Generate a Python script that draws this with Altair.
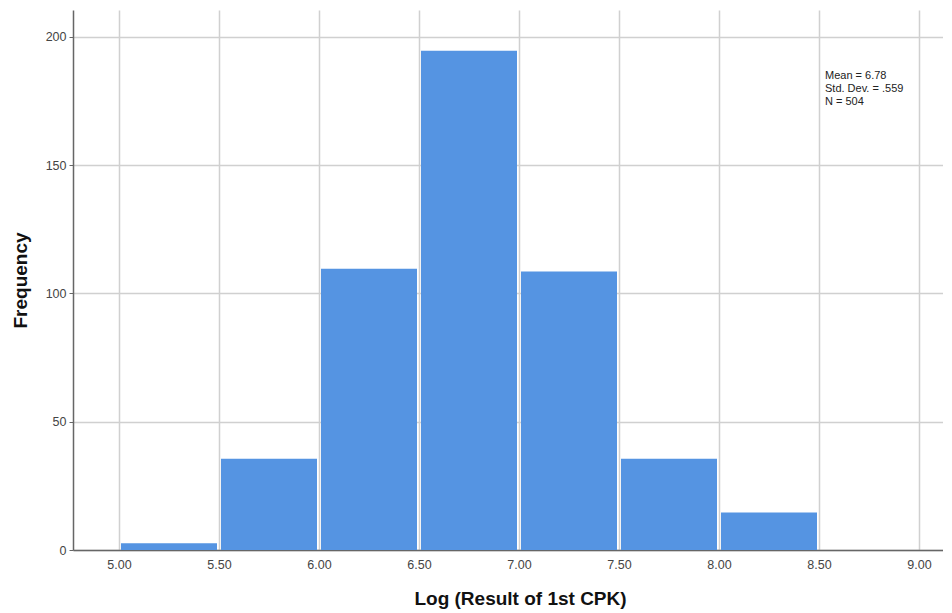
import altair as alt
import pandas as pd

bin_start = [5.0, 5.5, 6.0, 6.5, 7.0, 7.5, 8.0]
bin_end = [5.5, 6.0, 6.5, 7.0, 7.5, 8.0, 8.5]
freq = [3, 36, 110, 195, 109, 36, 15]
x_ticks = [5.0, 5.5, 6.0, 6.5, 7.0, 7.5, 8.0, 8.5, 9.0]
y_ticks = [0, 50, 100, 150, 200]
stats_text = "Mean = 6.78\nStd. Dev. = .559\nN = 504"

df = pd.DataFrame({"start": bin_start, "end": bin_end, "freq": freq})

xscale = alt.Scale(domain=[4.77, 9.12], nice=False, zero=False)
yscale = alt.Scale(domain=[0, 210.5], nice=False)

bars = alt.Chart(df).mark_rect(
    color="#5594E2", xOffset=2, x2Offset=-2, yOffset=1
).encode(
    x=alt.X("start:Q", scale=xscale,
            axis=alt.Axis(values=x_ticks, format=".2f", title="Log (Result of 1st CPK)",
                          tickSize=0, labelPadding=8, titlePadding=19, titleX=447,
                          grid=True)),
    x2="end:Q",
    y=alt.Y("freq:Q", scale=yscale,
            axis=alt.Axis(values=y_ticks, title="Frequency", tickSize=4,
                          labelPadding=3, titlePadding=15, grid=True)),
    y2=alt.datum(0),
)

ann = alt.Chart(pd.DataFrame({"x": [8.53], "y": [187], "t": [stats_text]})).mark_text(
    align="left", baseline="top", fontSize=11, lineHeight=13,
    font="Liberation Sans", color="#222222", lineBreak="\n"
).encode(x=alt.X("x:Q", scale=xscale), y=alt.Y("y:Q", scale=yscale), text="t:N")

chart = alt.layer(bars, ann).properties(
    width=870, height=540,
    autosize="none",
    padding={"left": 65, "top": 2, "right": 0, "bottom": 63},
).configure_view(stroke=None).configure_axis(
    labelFont="Liberation Sans", labelFontSize=12.5, labelColor="#444444",
    titleFont="Liberation Sans", titleFontSize=19, titleFontWeight="bold", titleColor="#111111",
    gridColor="#d0d0d0", gridWidth=1.5, domainColor="#666666", domainWidth=1.5,
    tickColor="#666666",
)

chart.save("out.html", embed_options={"renderer": "svg", "actions": False})
